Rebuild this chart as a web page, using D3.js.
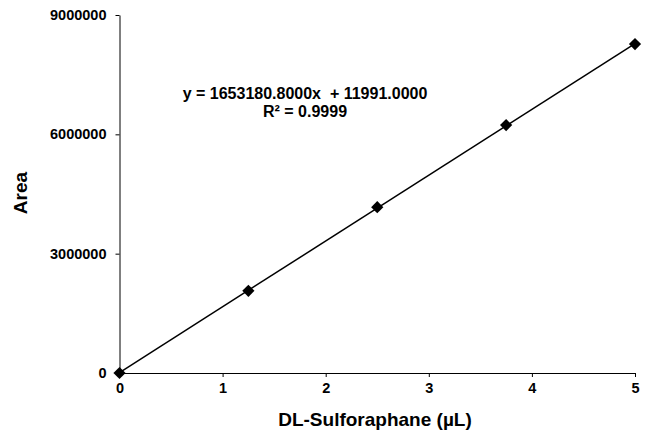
<!DOCTYPE html>
<html lang="en">
<head>
<meta charset="utf-8">
<title>DL-Sulforaphane calibration</title>
<script src="https://cdn.jsdelivr.net/npm/d3@7"></script>
<style>
	body { margin: 0; background: #fff; }
	text { font-family: "Liberation Sans", Arial, sans-serif; font-weight: bold; fill: #000; }
	.axis path, .axis line { stroke: #000; stroke-width: 1px; }
</style>
</head>
<body>
<div id="chart"></div>
<script>
	// data
	var volumes = [0, 1.25, 2.5, 3.75, 5];
	var areas = [0, 2066000, 4168000, 6232000, 8270000];
	var slope = 1653180.8, intercept = 11991.0;
	var xTicks = [0, 1, 2, 3, 4, 5];
	var yTicks = [0, 3000000, 6000000, 9000000];

	var width = 647, height = 434;
	var margin = { top: 15, right: 12, bottom: 61, left: 119.5 };

	var svg = d3.select("#chart").append("svg")
		.attr("width", width)
		.attr("height", height);

	var x = d3.scaleLinear().domain([0, 5]).range([margin.left, width - margin.right]);
	var y = d3.scaleLinear().domain([0, 9000000]).range([height - margin.bottom, margin.top]);

	// axes
	svg.append("g")
		.attr("class", "axis")
		.attr("transform", "translate(0," + y(0) + ")")
		.call(d3.axisBottom(x).tickValues(xTicks).tickSize(4).tickSizeOuter(0).tickPadding(6).tickFormat(d3.format("d")))
		.call(function (g) { g.selectAll("text").style("font-size", "14.5px"); });

	svg.append("g")
		.attr("class", "axis")
		.attr("transform", "translate(" + x(0) + ",0)")
		.call(d3.axisLeft(y).tickValues(yTicks).tickSize(4).tickSizeOuter(0).tickPadding(9).tickFormat(d3.format("d")))
		.call(function (g) { g.selectAll("text").style("font-size", "14.5px"); });

	// trend line
	svg.append("line")
		.attr("x1", x(0)).attr("y1", y(intercept))
		.attr("x2", x(5)).attr("y2", y(slope * 5 + intercept))
		.attr("stroke", "#000")
		.attr("stroke-width", 1.5);

	// markers
	svg.selectAll(".pt")
		.data(volumes)
		.enter().append("path")
		.attr("class", "pt")
		.attr("d", d3.symbol().type(d3.symbolDiamond2).size(95))
		.attr("transform", function (d, i) { return "translate(" + x(d) + "," + y(areas[i]) + ")"; })
		.attr("fill", "#000");

	// equation
	svg.append("text")
		.attr("x", 305).attr("y", 99)
		.attr("text-anchor", "middle")
		.style("font-size", "16px")
		.attr("xml:space", "preserve")
		.style("white-space", "pre")
		.text("y = 1653180.8000x  + 11991.0000");
	svg.append("text")
		.attr("x", 305).attr("y", 117)
		.attr("text-anchor", "middle")
		.style("font-size", "16px")
		.text("R² = 0.9999");

	// axis titles
	svg.append("text")
		.attr("x", 375).attr("y", 426)
		.attr("text-anchor", "middle")
		.style("font-size", "19px")
		.text("DL-Sulforaphane (µL)");
	svg.append("text")
		.attr("transform", "translate(27,193) rotate(-90)")
		.attr("text-anchor", "middle")
		.style("font-size", "19px")
		.text("Area");
</script>
</body>
</html>
